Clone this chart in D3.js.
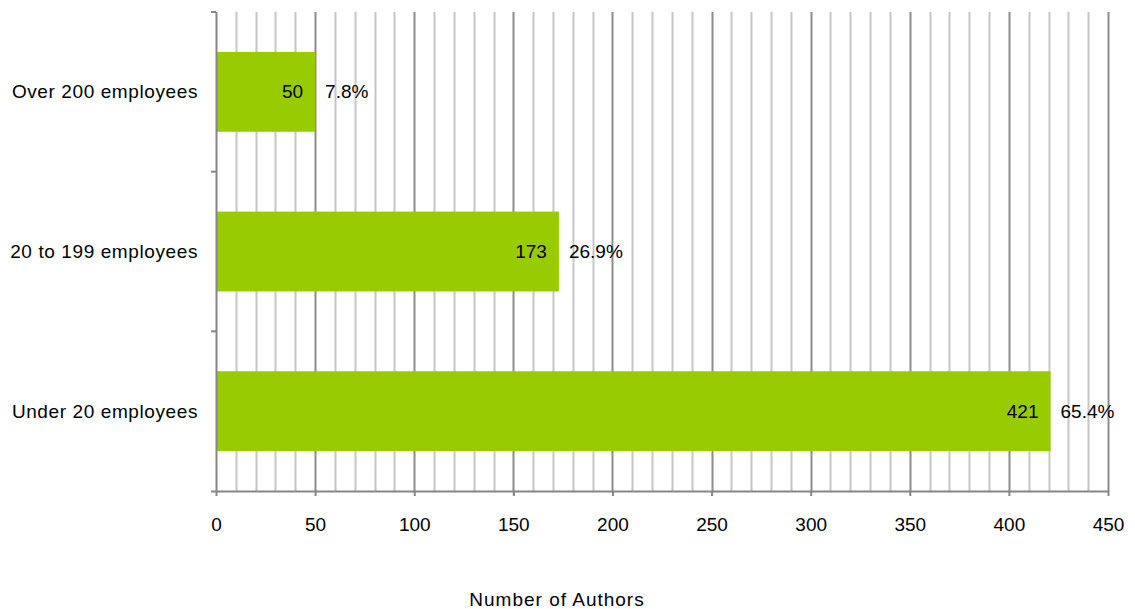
<!DOCTYPE html>
<html>
<head>
<meta charset="utf-8">
<script src="https://cdn.jsdelivr.net/npm/d3@7/dist/d3.min.js"></script>
<style>
  html, body { margin: 0; padding: 0; background: #fff; }
  svg { display: block; font-family: "Liberation Sans", Arial, sans-serif; }
</style>
</head>
<body>
<svg id="chart" width="1135" height="609"></svg>
<script>
// Company size categories (top to bottom) and author counts
const categories = ["Over 200 employees", "20 to 199 employees", "Under 20 employees"];
const authors = [50, 173, 421];
const shares = ["7.8%", "26.9%", "65.4%"];
const xTicks = [0, 50, 100, 150, 200, 250, 300, 350, 400, 450];
const xMax = 450;
const axisTitle = "Number of Authors";

const svg = d3.select("#chart");
const margin = { left: 216, right: 27, top: 12, bottom: 118 };
const W = 1135, H = 609;
const iw = W - margin.left - margin.right;
const ih = H - margin.top - margin.bottom;
const fontSize = 19;

const x = d3.scaleLinear().domain([0, xMax]).range([0, iw]);
const y = d3.scaleBand().domain(categories).range([0, ih]).paddingInner(0.5).paddingOuter(0.25);

const g = svg.append("g").attr("transform", `translate(${margin.left},${margin.top})`);

// Minor gridlines every 10, major every 50
const minor = d3.range(10, xMax + 1, 10).filter(v => v % 50 !== 0);
g.selectAll("line.minor").data(minor).join("line")
  .attr("x1", d => Math.round(x(d)) + 0.5).attr("x2", d => Math.round(x(d)) + 0.5)
  .attr("y1", 0).attr("y2", ih)
  .attr("stroke", "#c6c6c6").attr("stroke-width", 2);
g.selectAll("line.major").data(xTicks.filter(v => v > 0)).join("line")
  .attr("x1", d => Math.round(x(d)) + 0.5).attr("x2", d => Math.round(x(d)) + 0.5)
  .attr("y1", 0).attr("y2", ih)
  .attr("stroke", "#8c8c8c").attr("stroke-width", 2);

// Bars
g.selectAll("rect.bar").data(categories).join("rect")
  .attr("x", 0)
  .attr("y", d => y(d))
  .attr("width", (d, i) => x(authors[i]))
  .attr("height", y.bandwidth())
  .attr("fill", "#99cc00");

// X axis
const xAxis = g.append("g").attr("transform", `translate(0,${ih})`)
  .call(d3.axisBottom(x).tickValues(xTicks).tickSize(5).tickPadding(22).tickFormat(d3.format("d")));
xAxis.select(".domain").attr("stroke", "#868686").attr("stroke-width", 2).attr("d", `M-5,0.5H${iw}`);
xAxis.selectAll(".tick line").attr("stroke", "#868686").attr("stroke-width", 2);
xAxis.selectAll(".tick text").attr("font-size", fontSize).attr("fill", "#000");

// Y axis with category boundary ticks
const yAxisG = g.append("g");
yAxisG.append("line").attr("x1", 0.5).attr("x2", 0.5).attr("y1", 0).attr("y2", ih)
  .attr("stroke", "#868686").attr("stroke-width", 2);
const step = ih / categories.length;
yAxisG.selectAll("line.cat").data(d3.range(categories.length)).join("line")
  .attr("x1", -5).attr("x2", 0)
  .attr("y1", d => d * step).attr("y2", d => d * step)
  .attr("stroke", "#868686").attr("stroke-width", 2);
yAxisG.selectAll("text").data(categories).join("text")
  .attr("x", -18)
  .attr("y", d => y(d) + y.bandwidth() / 2)
  .attr("text-anchor", "end")
  .attr("dominant-baseline", "central")
  .attr("font-size", fontSize)
  .attr("letter-spacing", 0.6)
  .text(d => d);

// Value labels inside bar ends and share labels after them
g.selectAll("text.val").data(categories).join("text")
  .attr("x", (d, i) => x(authors[i]) - 12)
  .attr("y", d => y(d) + y.bandwidth() / 2)
  .attr("text-anchor", "end")
  .attr("dominant-baseline", "central")
  .attr("font-size", fontSize)
  .text((d, i) => authors[i]);
g.selectAll("text.pct").data(categories).join("text")
  .attr("x", (d, i) => x(authors[i]) + 10)
  .attr("y", d => y(d) + y.bandwidth() / 2)
  .attr("text-anchor", "start")
  .attr("dominant-baseline", "central")
  .attr("font-size", fontSize)
  .text((d, i) => shares[i]);

// Axis title
svg.append("text")
  .attr("x", 557).attr("y", 606)
  .attr("text-anchor", "middle")
  .attr("font-size", fontSize)
  .attr("letter-spacing", 1)
  .text(axisTitle);
</script>
</body>
</html>
